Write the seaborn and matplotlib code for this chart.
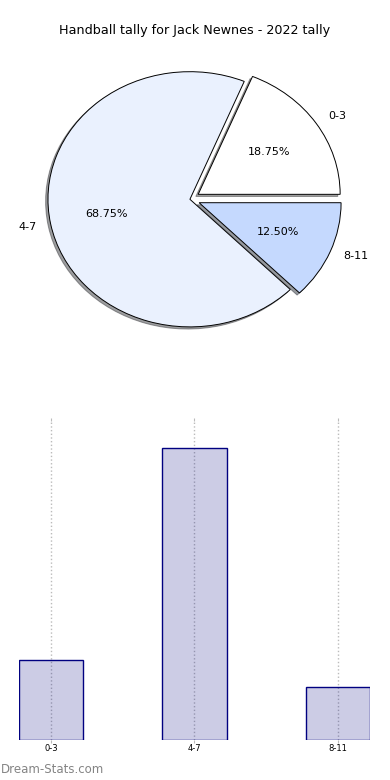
import matplotlib
matplotlib.use("Agg")
import matplotlib.pyplot as plt
import matplotlib.colors as mcolors
import seaborn as sns
import pandas as pd

player = "Jack Newnes"
season = "2022"
bins = ["0-3", "4-7", "8-11"]
counts = [3, 11, 2]
pie_colors = ["#ffffff", "#eaf1fe", "#c5d9fe"]
explode = [0.07, 0, 0.07]

data = pd.DataFrame({"bin": bins, "count": counts})

fig = plt.figure(figsize=(3.9, 7.8), dpi=100)

# pie on top
ax_pie = fig.add_axes([0.032, 0.540, 0.910, 0.409])
ax_pie.pie(data["count"], labels=data["bin"], colors=pie_colors,
           explode=explode, autopct="%.2f%%",
           shadow={"ox": -0.012, "oy": -0.012, "shade": 0.75},
           startangle=0,
           wedgeprops={"edgecolor": "black", "linewidth": 0.7},
           textprops={"fontsize": 8})
ax_pie.set_aspect("auto")
fig.text(0.498, 0.961, f"Handball tally for {player} - {season} tally",
         ha="center", va="center", fontsize=9.2)

# bar chart below
ax_bar = fig.add_axes([0.0487, 0.0513, 0.90, 0.409])
sns.barplot(data=data, x="bin", y="count", color="navy", saturation=1,
            width=0.45, edgecolor="navy", linewidth=1, ax=ax_bar)
for p in ax_bar.patches:
    p.set_facecolor(mcolors.to_rgba("navy", 0.2))
ax_bar.set_xlim(-0.225, 2.225)
ax_bar.set_ylim(0, 12)
ax_bar.set_xlabel("")
ax_bar.set_ylabel("")
ax_bar.set_yticks([])
for s in ax_bar.spines.values():
    s.set_visible(False)
ax_bar.set_axisbelow(True)
ax_bar.grid(axis="x", linestyle=":", color="#bbbbbb", linewidth=1)
ax_bar.tick_params(axis="x", labelsize=6, length=2, color="#bbbbbb",
                   top=True, pad=1)

fig.text(0.001, 0.013, "Dream-Stats.com", fontsize=8.5, color="#848484",
         ha="left", va="center")

fig.savefig("out.png", dpi=100)
